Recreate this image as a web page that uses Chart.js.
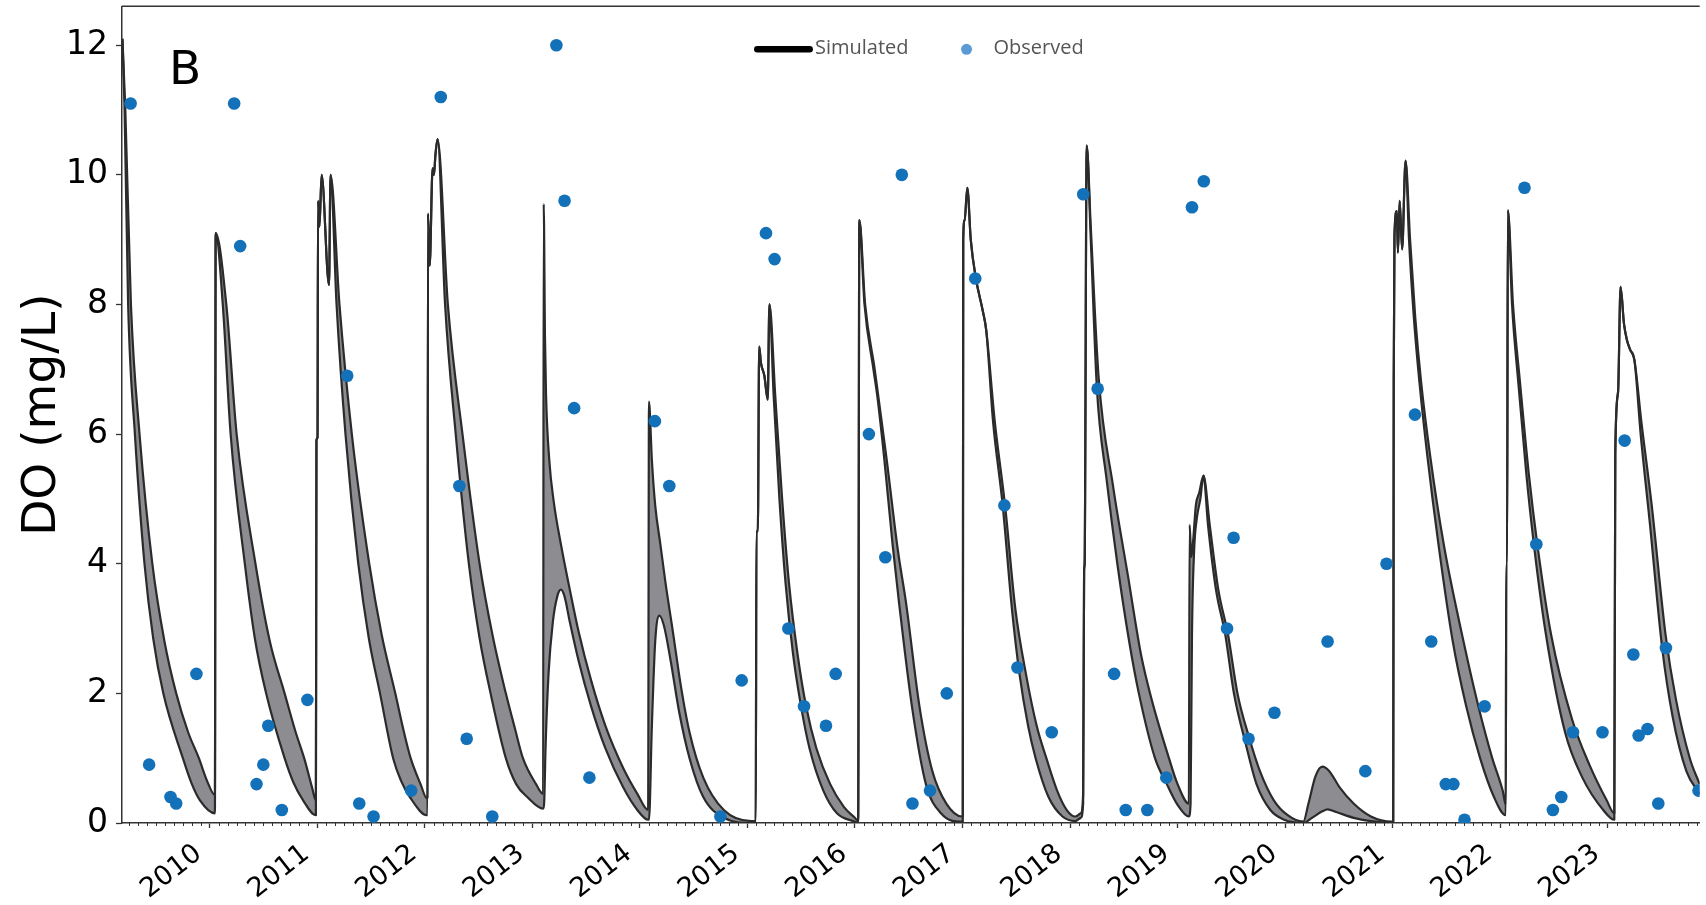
<!DOCTYPE html>
<html>
<head>
<meta charset="utf-8">
<script src="https://cdn.jsdelivr.net/npm/chart.js@4.4.0/dist/chart.umd.min.js"></script>
<style>
  html, body { margin: 0; padding: 0; background: #fff; overflow: hidden; }
  #wrap { position: relative; width: 1706px; height: 905px; }
</style>
</head>
<body>
<div id="wrap"><canvas id="doChart"></canvas></div>
<script>
// simulated band, upper edge (decimal year, DO mg/L)
const upperYears = [
  2009.189, 2009.216, 2009.268, 2009.348, 2009.467, 2009.580, 2009.689, 2009.800, 2009.900, 2009.976, 2010.049,
  2010.056, 2010.155, 2010.251, 2010.426, 2010.560, 2010.697, 2010.800, 2010.879, 2010.952, 2010.988,
  2010.993, 2011.003, 2011.008, 2011.021, 2011.041, 2011.110, 2011.124, 2011.207, 2011.322, 2011.484, 2011.600, 2011.726, 2011.800, 2011.869, 2011.961, 2012.020,
  2012.026, 2012.030, 2012.046, 2012.073, 2012.086, 2012.099, 2012.119, 2012.215, 2012.351, 2012.510, 2012.630, 2012.754, 2012.840, 2012.913, 2013.035, 2013.101,
  2013.106, 2013.118, 2013.128, 2013.158, 2013.200, 2013.266, 2013.349, 2013.431, 2013.547, 2013.680, 2013.845, 2013.977, 2014.077,
  2014.085, 2014.112, 2014.143, 2014.191, 2014.239, 2014.303, 2014.383, 2014.462, 2014.590, 2014.781, 2015.036,
  2015.078, 2015.084, 2015.097, 2015.110, 2015.126, 2015.158, 2015.189, 2015.205, 2015.259, 2015.323, 2015.387, 2015.467, 2015.546, 2015.642, 2015.770, 2015.897, 2015.999,
  2016.030, 2016.041, 2016.095, 2016.184, 2016.216, 2016.296, 2016.400, 2016.475, 2016.600, 2016.720, 2016.850, 2016.997,
  2017.003, 2017.007, 2017.020, 2017.045, 2017.077, 2017.125, 2017.189, 2017.221, 2017.300, 2017.396, 2017.492, 2017.590, 2017.690, 2017.780, 2017.880, 2017.970, 2018.050,
  2018.100, 2018.122, 2018.131, 2018.136, 2018.155, 2018.193, 2018.265, 2018.400, 2018.540, 2018.660, 2018.760, 2018.920, 2019.000, 2019.105,
  2019.112, 2019.128, 2019.147, 2019.170, 2019.202, 2019.241, 2019.299, 2019.379, 2019.470, 2019.557, 2019.669, 2019.766, 2019.895, 2020.024, 2020.169,
  2020.217, 2020.282, 2020.346, 2020.411, 2020.507, 2020.637, 2020.798, 2020.991,
  2021.005, 2021.010, 2021.017, 2021.039, 2021.049, 2021.065, 2021.088, 2021.120, 2021.162, 2021.210, 2021.265, 2021.346, 2021.475, 2021.659, 2021.797, 2021.926, 2022.023, 2022.052,
  2022.056, 2022.064, 2022.071, 2022.119, 2022.184, 2022.265, 2022.345, 2022.474, 2022.668, 2022.829, 2022.990, 2023.061,
  2023.070, 2023.096, 2023.119, 2023.151, 2023.177, 2023.209, 2023.248, 2023.312, 2023.409, 2023.538, 2023.635, 2023.763, 2023.854
];
const upperDO = [
  12.1, 11.0, 8.0, 6.0, 4.0, 2.8, 2.0, 1.4, 1.0, 0.65, 0.43,
  9.1, 8.0, 6.0, 4.0, 2.8, 2.0, 1.4, 1.0, 0.55, 0.35,
  5.9, 5.95, 9.6, 9.2, 10.0, 8.3, 10.0, 8.0, 6.0, 4.0, 2.9, 2.0, 1.45, 1.0, 0.6, 0.38,
  0.4, 9.4, 8.6, 10.1, 10.0, 10.3, 10.55, 8.0, 6.0, 4.0, 2.9, 2.0, 1.45, 1.0, 0.6, 0.45,
  9.55, 7.5, 6.6, 5.6, 4.95, 4.3, 3.6, 2.95, 2.2, 1.5, 0.85, 0.45, 0.2,
  6.5, 5.6, 4.9, 4.3, 3.7, 3.0, 2.1, 1.4, 0.7, 0.2, 0.03,
  0.03, 4.5, 4.5, 7.35, 7.1, 6.9, 6.53, 8.0, 6.6, 5.0, 3.7, 2.6, 1.8, 1.15, 0.6, 0.25, 0.08,
  0.03, 9.3, 8.0, 7.0, 6.6, 5.6, 4.2, 3.4, 1.8, 0.8, 0.3, 0.1,
  0.1, 9.0, 9.3, 9.8, 9.0, 8.4, 7.9, 7.6, 6.2, 4.9, 3.3, 2.3, 1.5, 1.0, 0.5, 0.2, 0.1,
  0.15, 0.45, 3.9, 4.0, 10.45, 9.2, 6.9, 5.2, 3.8, 2.6, 1.9, 1.0, 0.6, 0.3,
  4.6, 4.1, 4.4, 4.9, 5.1, 5.36, 4.6, 3.6, 2.9, 2.0, 1.3, 0.8, 0.35, 0.12, 0.02,
  0.3, 0.72, 0.87, 0.8, 0.55, 0.3, 0.1, 0.02,
  0.02, 6.8, 9.07, 9.44, 8.8, 9.6, 8.85, 10.22, 9.0, 7.8, 6.8, 5.7, 4.3, 2.8, 1.8, 1.0, 0.5, 0.28,
  4.0, 4.0, 9.45, 8.0, 6.8, 5.4, 4.3, 2.9, 1.6, 0.9, 0.35, 0.15,
  5.7, 6.65, 8.27, 7.7, 7.46, 7.3, 7.14, 6.2, 4.9, 2.9, 1.9, 1.0, 0.6
];

// simulated band, lower edge
const lowerYears = [
  2009.189, 2009.209, 2009.242, 2009.305, 2009.394, 2009.475, 2009.569, 2009.751, 2009.830, 2009.910, 2010.049,
  2010.056, 2010.122, 2010.195, 2010.327, 2010.420, 2010.525, 2010.697, 2010.780, 2010.869, 2010.988,
  2010.993, 2011.003, 2011.008, 2011.021, 2011.041, 2011.110, 2011.124, 2011.180, 2011.263, 2011.382, 2011.480, 2011.584, 2011.706, 2011.780, 2011.862, 2012.020,
  2012.026, 2012.030, 2012.046, 2012.073, 2012.086, 2012.099, 2012.119, 2012.189, 2012.288, 2012.410, 2012.510, 2012.612, 2012.754, 2012.850, 2012.953, 2013.101,
  2013.110, 2013.124, 2013.151, 2013.191, 2013.233, 2013.266, 2013.299, 2013.349, 2013.431, 2013.547, 2013.680, 2013.845, 2013.977, 2014.077,
  2014.085, 2014.112, 2014.143, 2014.182, 2014.223, 2014.287, 2014.367, 2014.462, 2014.590, 2014.781, 2015.036,
  2015.078, 2015.084, 2015.097, 2015.110, 2015.126, 2015.158, 2015.189, 2015.205, 2015.244, 2015.298, 2015.355, 2015.425, 2015.499, 2015.578, 2015.706, 2015.833, 2015.999,
  2016.030, 2016.041, 2016.089, 2016.172, 2016.207, 2016.274, 2016.350, 2016.410, 2016.530, 2016.660, 2016.800, 2016.997,
  2017.003, 2017.007, 2017.020, 2017.045, 2017.077, 2017.125, 2017.189, 2017.221, 2017.284, 2017.374, 2017.460, 2017.530, 2017.610, 2017.680, 2017.800, 2017.930, 2018.050,
  2018.100, 2018.122, 2018.131, 2018.136, 2018.155, 2018.193, 2018.250, 2018.340, 2018.440, 2018.550, 2018.640, 2018.790, 2018.900, 2019.000, 2019.105,
  2019.121, 2019.134, 2019.154, 2019.179, 2019.212, 2019.241, 2019.283, 2019.357, 2019.444, 2019.524, 2019.637, 2019.734, 2019.863, 2019.992, 2020.169,
  2020.250, 2020.346, 2020.395, 2020.475, 2020.637, 2020.798, 2020.991,
  2021.005, 2021.010, 2021.017, 2021.039, 2021.049, 2021.065, 2021.088, 2021.120, 2021.152, 2021.197, 2021.249, 2021.320, 2021.426, 2021.559, 2021.684, 2021.813, 2021.942, 2022.052,
  2022.056, 2022.064, 2022.071, 2022.110, 2022.168, 2022.242, 2022.313, 2022.426, 2022.603, 2022.764, 2022.958, 2023.061,
  2023.070, 2023.096, 2023.119, 2023.151, 2023.177, 2023.209, 2023.248, 2023.306, 2023.393, 2023.506, 2023.602, 2023.731, 2023.854
];
const lowerDO = [
  12.1, 11.0, 8.0, 6.0, 4.0, 2.85, 2.0, 1.0, 0.62, 0.35, 0.15,
  9.1, 8.0, 6.0, 4.0, 2.85, 2.0, 1.0, 0.62, 0.35, 0.12,
  5.9, 5.95, 9.6, 9.2, 10.0, 8.3, 10.0, 8.0, 6.0, 4.0, 2.85, 2.0, 1.0, 0.65, 0.4, 0.12,
  0.12, 9.4, 8.6, 10.1, 10.0, 10.3, 10.55, 8.0, 6.0, 4.0, 2.85, 2.0, 1.0, 0.6, 0.4, 0.22,
  0.3, 1.2, 2.3, 3.1, 3.5, 3.6, 3.5, 3.1, 2.5, 1.8, 1.15, 0.55, 0.2, 0.05,
  0.05, 1.5, 2.8, 3.2, 3.05, 2.5, 1.7, 1.0, 0.4, 0.08, 0.0,
  0.0, 4.5, 4.5, 7.35, 7.1, 6.9, 6.53, 8.0, 6.6, 5.0, 3.7, 2.6, 1.8, 1.15, 0.5, 0.15, 0.02,
  0.0, 9.3, 8.0, 7.0, 6.6, 5.6, 4.3, 3.4, 1.8, 0.6, 0.15, 0.02,
  0.02, 9.0, 9.3, 9.8, 9.0, 8.4, 7.9, 7.6, 6.2, 4.9, 3.3, 2.3, 1.5, 1.0, 0.4, 0.1, 0.03,
  0.08, 0.3, 3.9, 4.0, 10.45, 9.0, 6.7, 5.3, 4.0, 2.8, 2.0, 1.0, 0.6, 0.28, 0.1,
  0.3, 2.9, 4.2, 4.7, 5.0, 5.36, 4.6, 3.6, 2.9, 2.0, 1.2, 0.6, 0.2, 0.05, 0.0,
  0.08, 0.18, 0.21, 0.17, 0.08, 0.03, 0.0,
  0.0, 6.8, 9.07, 9.44, 8.8, 9.6, 8.85, 10.22, 9.0, 7.8, 6.8, 5.7, 4.3, 2.8, 1.8, 1.0, 0.4, 0.12,
  4.0, 4.0, 9.45, 8.0, 6.8, 5.4, 4.3, 2.9, 1.4, 0.7, 0.2, 0.05,
  5.7, 6.65, 8.27, 7.7, 7.46, 7.3, 7.14, 6.0, 4.6, 2.7, 1.65, 0.8, 0.45
];

// observed samples
const obsYears = [
  2009.265, 2009.437, 2009.636, 2009.689, 2009.877, 2010.228, 2010.284, 2010.436, 2010.499, 2010.545,
  2010.671, 2010.909, 2011.279, 2011.391, 2011.524, 2011.874, 2012.149, 2012.322, 2012.390, 2012.628,
  2013.224, 2013.300, 2013.389, 2013.531, 2014.140, 2014.274, 2014.749, 2014.947, 2015.173, 2015.253,
  2015.381, 2015.527, 2015.731, 2015.821, 2016.130, 2016.283, 2016.436, 2016.535, 2016.698, 2016.854,
  2017.119, 2017.390, 2017.511, 2017.830, 2018.123, 2018.257, 2018.410, 2018.518, 2018.719, 2018.895,
  2019.134, 2019.244, 2019.460, 2019.521, 2019.660, 2019.901, 2020.395, 2020.746, 2020.943, 2021.207,
  2021.359, 2021.494, 2021.565, 2021.668, 2021.855, 2022.226, 2022.336, 2022.490, 2022.568, 2022.677,
  2022.951, 2023.157, 2023.238, 2023.287, 2023.370, 2023.470, 2023.541, 2023.844
];
const obsDO = [
  11.1, 0.9, 0.4, 0.3, 2.3, 11.1, 8.9, 0.6, 0.9, 1.5,
  0.2, 1.9, 6.9, 0.3, 0.1, 0.5, 11.2, 5.2, 1.3, 0.1,
  12.0, 9.6, 6.4, 0.7, 6.2, 5.2, 0.1, 2.2, 9.1, 8.7,
  3.0, 1.8, 1.5, 2.3, 6.0, 4.1, 10.0, 0.3, 0.5, 2.0,
  8.4, 4.9, 2.4, 1.4, 9.7, 6.7, 2.3, 0.2, 0.2, 0.7,
  9.5, 9.9, 3.0, 4.4, 1.3, 1.7, 2.8, 0.8, 4.0, 6.3,
  2.8, 0.6, 0.6, 0.05, 1.8, 9.8, 4.3, 0.2, 0.4, 1.4,
  1.4, 5.9, 2.6, 1.35, 1.45, 0.3, 2.7, 0.5
];

const yearTicks = [2010, 2011, 2012, 2013, 2014, 2015, 2016, 2017, 2018, 2019, 2020, 2021, 2022, 2023];
const doTicks = [0, 2, 4, 6, 8, 10, 12];

const toPts = (xs, ys) => xs.map((x, i) => ({ x: x, y: ys[i] }));

// spines, monthly minor ticks, panel letter and the legend
const decor = {
  id: 'decor',
  afterDraw(chart) {
    const ctx = chart.ctx;
    const a = chart.chartArea;
    const xs = chart.scales.x;
    ctx.save();
    ctx.strokeStyle = '#333';
    ctx.lineWidth = 1.5;
    ctx.beginPath();
    ctx.moveTo(a.left, a.top);
    ctx.lineTo(a.right, a.top);
    ctx.stroke();

    ctx.lineWidth = 1;
    ctx.beginPath();
    for (let yr = Math.floor(xs.min); yr <= Math.ceil(xs.max); yr++) {
      for (let m = 1; m < 12; m++) {
        const v = yr + m / 12;
        if (v < xs.min || v > xs.max) continue;
        const px = Math.round(xs.getPixelForValue(v)) + 0.5;
        ctx.moveTo(px, a.bottom);
        ctx.lineTo(px, a.bottom + 3);
      }
    }
    ctx.stroke();

    ctx.fillStyle = '#000';
    ctx.font = '47px "DejaVu Sans"';
    ctx.textAlign = 'left';
    ctx.textBaseline = 'alphabetic';
    ctx.fillText('B', a.left + 47, a.top + 78);

    // legend
    ctx.font = '20px "Open Sans"';
    const w1 = ctx.measureText('Simulated').width;
    const w2 = ctx.measureText('Observed').width;
    const total = 59 + 2 + w1 + 58 + 27 + w2;
    const lx = (a.left + a.right) / 2 + 8 - total / 2;
    const ly = a.top + 43;
    ctx.strokeStyle = '#000';
    ctx.lineWidth = 6.5;
    ctx.lineCap = 'round';
    ctx.beginPath();
    ctx.moveTo(lx + 3.3, ly);
    ctx.lineTo(lx + 55.7, ly);
    ctx.stroke();
    ctx.fillStyle = '#555';
    ctx.textBaseline = 'middle';
    ctx.fillText('Simulated', lx + 61, ly - 1);
    const dx = lx + 61 + w1 + 58;
    ctx.fillStyle = '#5b9bd5';
    ctx.beginPath();
    ctx.arc(dx, ly, 5.5, 0, Math.PI * 2);
    ctx.fill();
    ctx.fillStyle = '#555';
    ctx.fillText('Observed', dx + 27, ly - 1);
    ctx.restore();
  }
};

const ctx = document.getElementById('doChart').getContext('2d');
const doChart = new Chart(ctx, {
  type: 'line',
  data: {
    datasets: [
      {
        label: 'Simulated',
        data: toPts(upperYears, upperDO),
        borderColor: '#2b2b2b',
        backgroundColor: '#8c8c91',
        borderWidth: 2.2,
        borderJoinStyle: 'round',
        pointRadius: 0,
        cubicInterpolationMode: 'monotone',
        fill: '+1',
        order: 2
      },
      {
        label: 'Simulated (lower)',
        data: toPts(lowerYears, lowerDO),
        borderColor: '#2b2b2b',
        borderWidth: 2.2,
        borderJoinStyle: 'round',
        pointRadius: 0,
        cubicInterpolationMode: 'monotone',
        fill: false,
        order: 2
      },
      {
        type: 'scatter',
        label: 'Observed',
        data: toPts(obsYears, obsDO),
        backgroundColor: '#1271b9',
        borderWidth: 0,
        pointRadius: 6.3,
        clip: 0,
        order: 1
      }
    ]
  },
  options: {
    responsive: true,
    maintainAspectRatio: false,
    animation: false,
    events: [],
    layout: { padding: { top: 6, left: 0, right: 0, bottom: 0 } },
    plugins: {
      legend: { display: false },
      tooltip: { enabled: false },
      filler: { propagate: false, drawTime: 'beforeDatasetsDraw' }
    },
    scales: {
      x: {
        type: 'linear',
        min: 2009.185,
        max: 2023.855,
        z: 1,
        afterBuildTicks: s => { s.ticks = yearTicks.map(v => ({ value: v })); },
        afterFit: s => { s.height = 82; s.paddingLeft = 0; s.paddingRight = 0; },
        ticks: {
          autoSkip: false,
          minRotation: 38,
          maxRotation: 38,
          padding: 10,
          labelOffset: -11,
          color: '#000',
          font: { family: 'DejaVu Sans', size: 27 },
          callback: v => String(v)
        },
        grid: { drawOnChartArea: false, tickLength: 5, tickColor: '#333', tickWidth: 1.3 },
        border: { color: '#333', width: 1.5 }
      },
      y: {
        min: 0,
        max: 12.6,
        z: 1,
        afterBuildTicks: s => { s.ticks = doTicks.map(v => ({ value: v })); },
        afterFit: s => { s.width = 122; s.paddingTop = 0; s.paddingBottom = 0; },
        ticks: {
          padding: 8,
          color: '#000',
          font: { family: 'DejaVu Sans', size: 33 },
          callback: v => String(v)
        },
        grid: { drawOnChartArea: false, tickLength: 6, tickColor: '#333', tickWidth: 1.3 },
        border: { color: '#333', width: 1.5 },
        title: {
          display: true,
          text: 'DO (mg/L)',
          color: '#000',
          font: { family: 'DejaVu Sans', size: 47 },
          padding: { top: 15, bottom: 0 }
        }
      }
    }
  },
  plugins: [decor]
});
</script>
</body>
</html>
